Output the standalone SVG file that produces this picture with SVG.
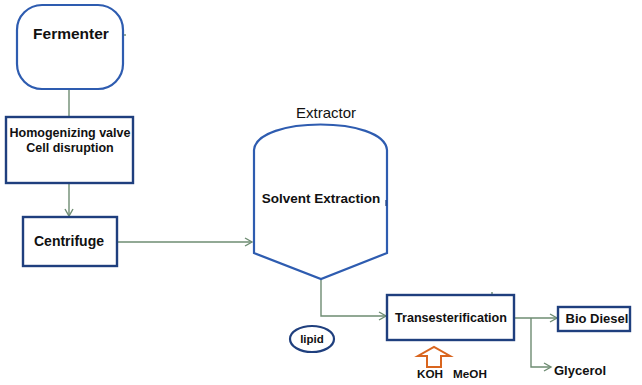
<svg xmlns="http://www.w3.org/2000/svg" width="642" height="385" viewBox="0 0 642 385">
<style>
.t{font-family:"Liberation Sans",Arial,sans-serif;font-weight:bold;fill:#111;text-anchor:middle}
.n{font-family:"Liberation Sans",Arial,sans-serif;fill:#111;text-anchor:middle}
.bl{fill:#fff;stroke:#2e5cb0;stroke-width:2.2}
.nv{fill:#fff;stroke:#1f3f7e;stroke-width:2.4}
.c{fill:none;stroke:#6e8c72;stroke-width:1.4}
</style>
<defs>
<marker id="ah" markerWidth="10" markerHeight="10" refX="8" refY="5" orient="auto" markerUnits="userSpaceOnUse">
<path d="M1,1 L8,5 L1,9" fill="none" stroke="#6e8c72" stroke-width="1.4"/>
</marker>
</defs>
<rect width="642" height="385" fill="#fff"/>
<g id="connectors">
<path class="c" d="M69,89 V117"/>
<path class="c" d="M69,183 V216" marker-end="url(#ah)"/>
<path class="c" d="M117,242 H252" marker-end="url(#ah)"/>
<path class="c" d="M321,279 V316 H386" marker-end="url(#ah)"/>
<path class="c" d="M514,318 H557" marker-end="url(#ah)"/>
<path class="c" d="M531,318 V367 H551" marker-end="url(#ah)"/>
<path class="c" d="M123,35 h3"/>
<path class="c" d="M492,292 v2"/>
</g>
<g id="fermenter">
<rect class="bl" x="17" y="5" width="106" height="84" rx="25"/>
<text class="t" x="71" y="39" font-size="15.5">Fermenter</text>
</g>
<g id="homogenizer">
<rect class="nv" x="6" y="117" width="127" height="66"/>
<text class="t" x="70" y="137" font-size="12.5">Homogenizing valve</text>
<text class="t" x="70" y="152" font-size="12.5">Cell disruption</text>
</g>
<g id="centrifuge">
<rect class="nv" x="23" y="217" width="94" height="49"/>
<text class="t" x="69" y="246" font-size="14">Centrifuge</text>
</g>
<g id="extractor">
<path class="bl" d="M254,150 C257,116 384,116 387,150 V253 L321,279 L254,253 Z"/>
<text class="n" x="326" y="118" font-size="15">Extractor</text>
<text class="t" x="321" y="203" font-size="13.5">Solvent Extraction</text>
<path d="M386,200 v6" stroke="#1f3f7e" stroke-width="1.2"/>
</g>
<g id="lipid">
<ellipse cx="312" cy="339" rx="22" ry="13" fill="#fff" stroke="#1f3f7e" stroke-width="2.2"/>
<text class="t" x="312" y="343" font-size="11.5">lipid</text>
</g>
<g id="transesterification">
<rect class="nv" x="387" y="295" width="127" height="45"/>
<text class="t" x="451" y="322" font-size="12.6">Transesterification</text>
</g>
<g id="biodiesel">
<rect class="nv" x="558" y="307" width="72" height="24"/>
<text class="t" x="597" y="323" font-size="13">Bio Diesel</text>
</g>
<g id="glycerol">
<text class="t" x="580" y="375" font-size="13">Glycerol</text>
</g>
<g id="reagents">
<path d="M427,367 V356 H418 L434,347 L450,356 H441 V367 Z" fill="#fff" stroke="#d9651e" stroke-width="2"/>
<text class="t" x="430" y="378" font-size="11.7">KOH</text>
<text class="t" x="470" y="378" font-size="11.7">MeOH</text>
</g>
</svg>
